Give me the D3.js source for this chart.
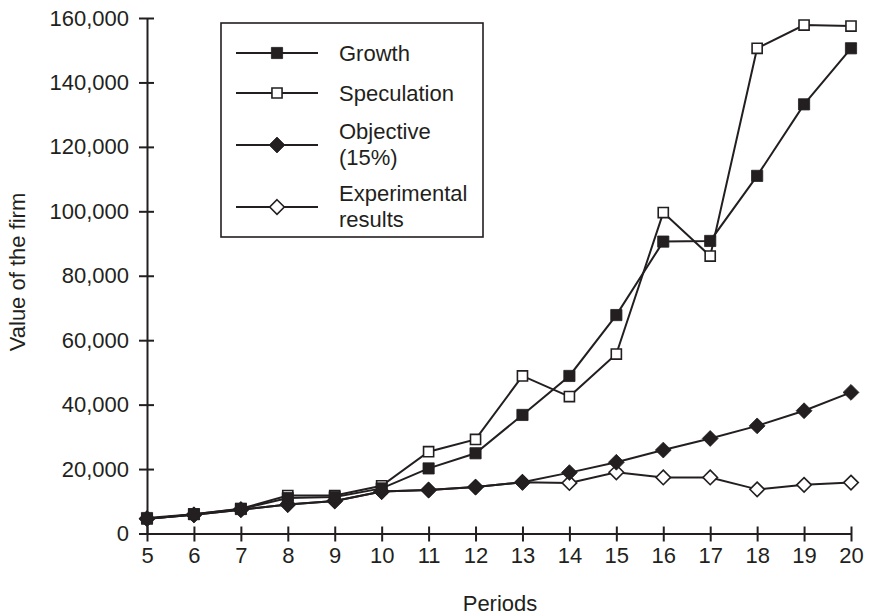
<!DOCTYPE html>
<html>
<head>
<meta charset="utf-8">
<script src="https://cdn.jsdelivr.net/npm/d3@7"></script>
<style>
  body { margin: 0; background: #fff; }
  text { font-family: "Liberation Sans", Arial, Helvetica, sans-serif; fill: #231f20; }
</style>
</head>
<body>
<script>
// periods on the x axis
const periods = [5, 6, 7, 8, 9, 10, 11, 12, 13, 14, 15, 16, 17, 18, 19, 20];

// value of the firm per period
const growth      = [4800, 6000, 7600, 11000, 11300, 14000, 20200, 24900, 36800, 48900, 67800, 90600, 90800, 111000, 133200, 150600];
const speculation = [4500, 6000, 7700, 11800, 11800, 14800, 25400, 29200, 48900, 42500, 55700, 99600, 86100, 150600, 157800, 157500];
const objective   = [4600, 5800, 7400, 9000, 10100, 13000, 13500, 14400, 15900, 18900, 22100, 25900, 29500, 33400, 38100, 43800];
const experiment  = [4600, 5800, 7400, 9000, 10100, 13000, 13500, 14400, 15900, 15700, 19000, 17400, 17400, 13700, 15100, 15800];

const yTicks = [0, 20000, 40000, 60000, 80000, 100000, 120000, 140000, 160000];

const ink = "#231f20";

const svg = d3.select("body").append("svg")
  .attr("width", 871)
  .attr("height", 616);

const x = d3.scaleLinear().domain([5, 20]).range([147, 851]);
const y = d3.scaleLinear().domain([0, 160000]).range([533.5, 18]);

// axes: ticks cross the axis line
const yAxis = svg.append("g")
  .attr("transform", "translate(" + x(5) + ",0)")
  .call(d3.axisLeft(y).tickValues(yTicks).tickSize(8).tickSizeOuter(0)
    .tickFormat(d3.format(",")));
yAxis.select(".domain").attr("stroke", ink).attr("stroke-width", 2);
yAxis.selectAll(".tick line").attr("stroke", ink).attr("stroke-width", 2).attr("x2", 7).attr("x1", -8);
yAxis.selectAll(".tick text")
  .attr("x", -18)
  .style("font-size", "22px")
  .attr("fill", ink);

const xAxis = svg.append("g")
  .attr("transform", "translate(0," + y(0) + ")")
  .call(d3.axisBottom(x).tickValues(periods).tickSize(8).tickSizeOuter(0)
    .tickFormat(d3.format("d")));
xAxis.select(".domain").attr("stroke", ink).attr("stroke-width", 2);
xAxis.selectAll(".tick line").attr("stroke", ink).attr("stroke-width", 2).attr("y1", -7).attr("y2", 8);
xAxis.selectAll(".tick text")
  .attr("y", 14)
  .style("font-size", "22px")
  .attr("fill", ink);

// axis titles
svg.append("text")
  .attr("transform", "translate(25,272) rotate(-90)")
  .attr("text-anchor", "middle")
  .style("font-size", "22px")
  .text("Value of the firm");

svg.append("text")
  .attr("x", 500)
  .attr("y", 611)
  .attr("text-anchor", "middle")
  .style("font-size", "22px")
  .text("Periods");

// series, drawn bottom to top
const series = [
  { name: "Experimental", values: experiment,  shape: d3.symbolDiamond2, size: 135, fill: "#fff" },
  { name: "Speculation",  values: speculation, shape: d3.symbolSquare2, size: 130, fill: "#fff" },
  { name: "Objective",    values: objective,   shape: d3.symbolDiamond2, size: 160, fill: ink },
  { name: "Growth",       values: growth,      shape: d3.symbolSquare2, size: 160, fill: ink }
];

const line = d3.line()
  .x((d, i) => x(periods[i]))
  .y(d => y(d));

series.forEach(s => {
  svg.append("path")
    .datum(s.values)
    .attr("d", line)
    .attr("fill", "none")
    .attr("stroke", ink)
    .attr("stroke-width", 2);
});

series.forEach(s => {
  svg.append("g").selectAll("path")
    .data(s.values)
    .join("path")
    .attr("transform", (d, i) => "translate(" + x(periods[i]) + "," + y(d) + ")")
    .attr("d", d3.symbol().type(s.shape).size(s.size))
    .attr("fill", s.fill)
    .attr("stroke", ink)
    .attr("stroke-width", s.fill === "#fff" ? 1.6 : 0.8);
});

// legend
const legend = svg.append("g");
legend.append("rect")
  .attr("x", 221).attr("y", 23)
  .attr("width", 262).attr("height", 214)
  .attr("fill", "#fff")
  .attr("stroke", ink)
  .attr("stroke-width", 1.6);

const legendRows = [
  { s: series[3], ly: 53,  lines: ["Growth"] },
  { s: series[1], ly: 93,  lines: ["Speculation"] },
  { s: series[2], ly: 145, lines: ["Objective", "(15%)"] },
  { s: series[0], ly: 207, lines: ["Experimental", "results"] }
];

legendRows.forEach(r => {
  legend.append("line")
    .attr("x1", 236).attr("x2", 318)
    .attr("y1", r.ly).attr("y2", r.ly)
    .attr("stroke", ink).attr("stroke-width", 2);
  legend.append("path")
    .attr("transform", "translate(277," + r.ly + ")")
    .attr("d", d3.symbol().type(r.s.shape).size(r.s.size))
    .attr("fill", r.s.fill)
    .attr("stroke", ink)
    .attr("stroke-width", r.s.fill === "#fff" ? 1.6 : 0.8);
  const t = legend.append("text")
    .attr("x", 339)
    .style("font-size", "22px");
  const top = r.lines.length === 1 ? r.ly + 8 : r.ly - 6;
  r.lines.forEach((txt, i) => {
    t.append("tspan").attr("x", 339).attr("y", top + i * 26).text(txt);
  });
});
</script>
</body>
</html>
